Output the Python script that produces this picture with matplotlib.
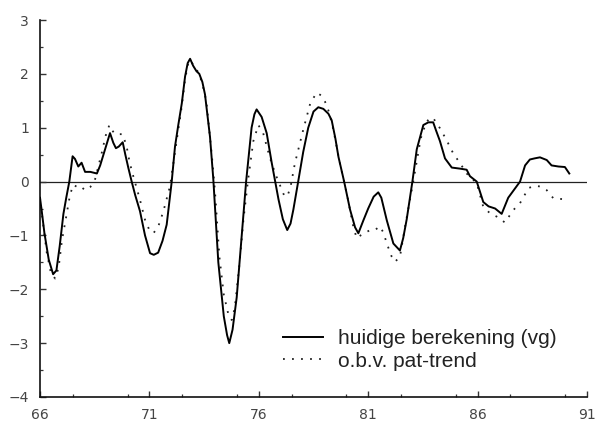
import matplotlib
matplotlib.use("Agg")
import matplotlib.pyplot as plt
from matplotlib.ticker import MultipleLocator, FixedLocator

# ---- data ----
years_vg = [66.0, 66.08, 66.2, 66.4, 66.6, 66.75, 66.9, 67.07, 67.2, 67.34, 67.49, 67.6, 67.75,
            67.9, 68.06, 68.3, 68.6, 68.75, 68.9, 69.05, 69.2, 69.35, 69.47, 69.6, 69.78, 69.9,
            70.04, 70.19, 70.35, 70.57, 70.8, 71.03, 71.2, 71.4, 71.6, 71.79, 72.02, 72.17,
            72.32, 72.48, 72.63, 72.75, 72.86, 73.0, 73.15, 73.28, 73.42, 73.54, 73.77, 73.92,
            74.15, 74.4, 74.55, 74.65, 74.8, 74.99, 75.22, 75.42, 75.67, 75.8, 75.9, 76.13,
            76.36, 76.59, 76.9, 77.1, 77.3, 77.45, 77.58, 77.8, 78.03, 78.26, 78.5, 78.72,
            78.95, 79.18, 79.33, 79.5, 79.64, 79.9, 80.17, 80.4, 80.55, 80.78, 81.0, 81.25,
            81.46, 81.6, 81.85, 82.15, 82.45, 82.6, 82.76, 83.02, 83.22, 83.52, 83.75, 83.97,
            84.1, 84.28, 84.51, 84.82, 85.2, 85.5, 85.65, 85.96, 86.26, 86.5, 86.8, 87.1, 87.4,
            87.94, 88.17, 88.39, 88.6, 88.85, 89.16, 89.38, 89.69, 89.99, 90.19]
values_vg = [-0.30, -0.55, -0.95, -1.45, -1.72, -1.65, -1.2, -0.6, -0.3, 0.0, 0.47, 0.42, 0.28,
             0.35, 0.18, 0.18, 0.15, 0.3, 0.5, 0.7, 0.9, 0.72, 0.62, 0.65, 0.73, 0.5,
             0.25, 0.0, -0.25, -0.55, -1.0, -1.33, -1.36, -1.32, -1.1, -0.8, 0.0, 0.65,
             1.05, 1.45, 1.95, 2.2, 2.28, 2.15, 2.05, 2.0, 1.85, 1.62, 0.83, 0.05,
             -1.5, -2.5, -2.85, -3.0, -2.75, -2.15, -1.0, 0.0, 1.0, 1.25, 1.34, 1.2,
             0.9, 0.35, -0.33, -0.7, -0.9, -0.78, -0.52, 0.0, 0.55, 1.0, 1.3, 1.38,
             1.35, 1.26, 1.14, 0.8, 0.46, 0.0, -0.52, -0.85, -0.96, -0.72, -0.5, -0.28,
             -0.2, -0.3, -0.72, -1.15, -1.28, -1.05, -0.7, 0.0, 0.6, 1.05, 1.1, 1.1,
             0.95, 0.75, 0.43, 0.26, 0.24, 0.22, 0.1, 0.0, -0.38, -0.46, -0.5, -0.6, -0.3,
             0.0, 0.3, 0.41, 0.43, 0.45, 0.4, 0.3, 0.28, 0.27, 0.15]

years_pat = [66.0, 66.1, 66.3, 66.5, 66.69, 66.85, 67.0, 67.22, 67.37, 67.52, 67.7, 67.83, 68.06,
             68.3, 68.51, 68.82, 69.0, 69.17, 69.3, 69.43, 69.6, 69.78, 69.96, 70.1, 70.27,
             70.57, 70.8, 71.03, 71.2, 71.4, 71.64, 71.94, 72.17, 72.48, 72.63, 72.8, 72.95,
             73.2, 73.4, 73.6, 73.85, 74.0, 74.2, 74.4, 74.6, 74.76, 74.9, 75.1, 75.3, 75.5,
             75.75, 75.98, 76.2, 76.5, 76.75, 76.96, 77.15, 77.3, 77.45, 77.65, 78.03, 78.35,
             78.64, 78.85, 79.03, 79.2, 79.41, 79.7, 80.05, 80.3, 80.47, 80.65, 80.85, 81.1,
             81.31, 81.53, 81.7, 81.85, 82.07, 82.22, 82.45, 82.7, 83.06, 83.4, 83.65, 83.82,
             83.97, 84.28, 84.58, 84.89, 85.2, 85.5, 85.96, 86.26, 86.57, 86.87, 87.25, 87.63,
             87.94, 88.33, 88.6, 88.85, 89.16, 89.46, 89.99]
values_pat = [-0.3, -0.65, -1.3, -1.7, -1.8, -1.6, -1.1, -0.6, -0.25, -0.06, -0.1, -0.08, -0.16,
              -0.1, 0.03, 0.53, 0.85, 1.05, 0.95, 0.88, 0.88, 0.88, 0.65, 0.35, 0.09,
              -0.34, -0.71, -0.93, -0.95, -0.84, -0.55, -0.09, 0.55, 1.4, 1.9, 2.25, 2.2,
              2.05, 1.85, 1.5, 0.5, -0.2, -1.4, -2.1, -2.45, -2.57, -2.35, -1.6, -0.7, 0.0,
              0.75, 1.05, 0.9, 0.45, 0.15, -0.06, -0.25, -0.28, -0.1, 0.34, 0.96, 1.45,
              1.65, 1.6, 1.48, 1.3, 0.96, 0.35, -0.28, -0.8, -1.05, -1.0, -0.95, -0.9,
              -0.9, -0.83, -0.95, -1.15, -1.39, -1.49, -1.4, -0.8, 0.0, 0.8, 1.1, 1.18,
              1.18, 0.99, 0.77, 0.52, 0.34, 0.15, -0.03, -0.47, -0.59, -0.65, -0.76, -0.53,
              -0.4, -0.12, -0.08, -0.09, -0.16, -0.31, -0.33]

x_ticks = [66, 71, 76, 81, 86, 91]
x_labels = ["66", "71", "76", "81", "86", "91"]
y_ticks = [-4, -3, -2, -1, 0, 1, 2, 3]
label_vg = "huidige berekening (vg)"
label_pat = "o.b.v. pat-trend"

# ---- figure ----
fig = plt.figure(figsize=(5.95, 4.21), dpi=100)
ax = fig.add_axes([40 / 595, 1 - 397 / 421, (587 - 40) / 595, (397 - 20) / 421])

ax.axhline(0, color="#222222", lw=0.9, zorder=1)
ax.plot(years_vg, values_vg, color="black", lw=1.4, label=label_vg, zorder=3)
ax.plot(years_pat, values_pat, color="#222222", lw=1.3, linestyle=(0, (1, 4)),
        label=label_pat, zorder=2)

ax.set_xlim(66, 91)
ax.set_ylim(-4, 3)

for s in ("top", "right"):
    ax.spines[s].set_visible(False)
for s in ("left", "bottom"):
    ax.spines[s].set_linewidth(1.2)
    ax.spines[s].set_color("#111111")

ax.xaxis.set_major_locator(FixedLocator(x_ticks))
ax.set_xticklabels(x_labels)
ax.xaxis.set_minor_locator(MultipleLocator(2.5))
ax.yaxis.set_major_locator(FixedLocator(y_ticks))
ax.yaxis.set_minor_locator(MultipleLocator(0.5))

ax.tick_params(which="major", direction="in", length=4, width=1.0, color="#333333",
               labelsize=10, labelcolor="#444444", pad=8)
ax.tick_params(which="minor", direction="in", length=2.5, width=0.9, color="#333333")
for lab in ax.get_xticklabels() + ax.get_yticklabels():
    lab.set_family("DejaVu Sans")

leg = ax.legend(loc="upper left", bbox_to_anchor=(273 / 595, 1 - 319 / 421),
                bbox_transform=fig.transFigure, frameon=False, borderpad=0,
                handlelength=1.9, handletextpad=0.7, labelspacing=0.15,
                prop={"family": "Liberation Sans", "size": 15})
for t in leg.get_texts():
    t.set_color("#222222")

fig.savefig("out.png", dpi=100)
